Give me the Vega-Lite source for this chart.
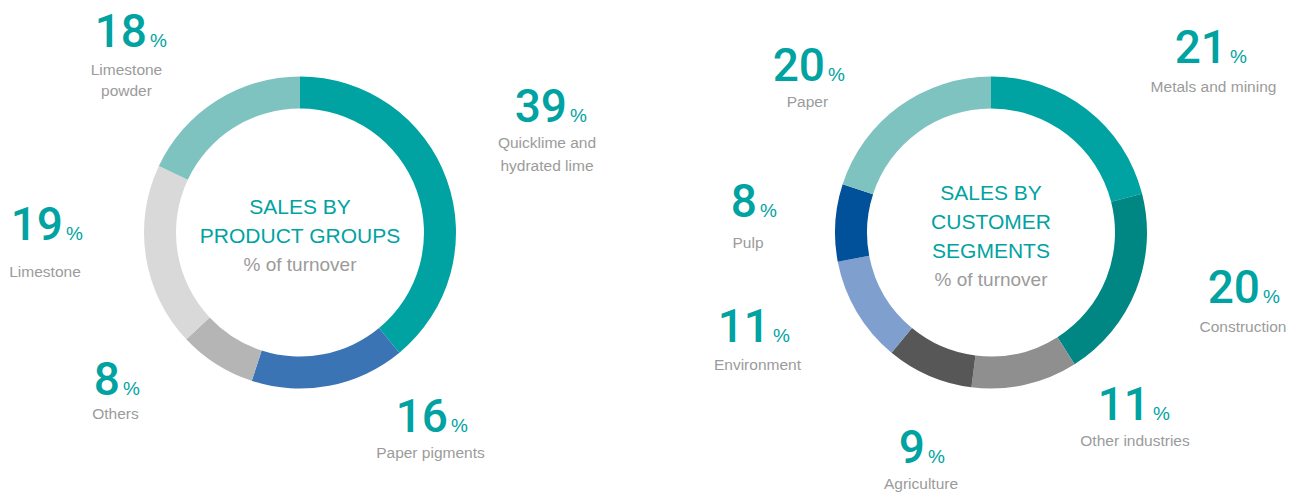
{
  "$schema": "https://vega.github.io/schema/vega-lite/v6.json",
  "autosize": {"type": "none"},
  "padding": {"left": 0, "top": 0, "right": 0, "bottom": 27},
  "width": 1295,
  "height": 465,
  "background": "white",
  "config": {"view": {"stroke": null}},
  "datasets": {
    "products": [
      {"chart": "products", "rank": 1, "name": "Quicklime and\nhydrated lime", "pct": 39},
      {"chart": "products", "rank": 2, "name": "Paper pigments", "pct": 16},
      {"chart": "products", "rank": 3, "name": "Others", "pct": 8},
      {"chart": "products", "rank": 4, "name": "Limestone", "pct": 19},
      {"chart": "products", "rank": 5, "name": "Limestone\npowder", "pct": 18}
    ],
    "segments": [
      {"chart": "segments", "rank": 1, "name": "Metals and mining", "pct": 21},
      {"chart": "segments", "rank": 2, "name": "Construction", "pct": 20},
      {"chart": "segments", "rank": 3, "name": "Other industries", "pct": 11},
      {"chart": "segments", "rank": 4, "name": "Agriculture", "pct": 9},
      {"chart": "segments", "rank": 5, "name": "Environment", "pct": 11},
      {"chart": "segments", "rank": 6, "name": "Pulp", "pct": 8},
      {"chart": "segments", "rank": 7, "name": "Paper", "pct": 20}
    ],
    "titles": [
      {"chart": "products", "title": "SALES BY\nPRODUCT GROUPS", "sub": "% of turnover"},
      {"chart": "segments", "title": "SALES BY\nCUSTOMER\nSEGMENTS", "sub": "% of turnover"}
    ]
  },
  "encoding": {
    "x": {"field": "chart", "type": "nominal", "scale": {"type": "point", "domain": ["products", "segments"], "range": [300, 991], "padding": 0}, "axis": null}
  },
  "layer": [
    {
      "data": {"name": "products"},
      "mark": {"type": "arc", "outerRadius": 156, "innerRadius": 124},
      "encoding": {
        "theta": {"field": "pct", "type": "quantitative", "stack": true, "scale": {"domain": [0, 100]}},
        "order": {"field": "rank", "type": "quantitative"},
        "color": {"field": "name", "type": "nominal", "legend": null, "scale": {
          "domain": ["Quicklime and\nhydrated lime", "Paper pigments", "Others", "Limestone", "Limestone\npowder", "Metals and mining", "Construction", "Other industries", "Agriculture", "Environment", "Pulp", "Paper"],
          "range": ["#00A3A1", "#3B74B4", "#B5B5B5", "#D9D9D9", "#7FC3C1", "#00A3A1", "#008784", "#8F8F8F", "#575757", "#7F9FCE", "#00519A", "#7FC3C1"]}}
      }
    },
    {
      "data": {"name": "segments"},
      "mark": {"type": "arc", "outerRadius": 156, "innerRadius": 124},
      "encoding": {
        "theta": {"field": "pct", "type": "quantitative", "stack": true},
        "order": {"field": "rank", "type": "quantitative"},
        "color": {"field": "name", "type": "nominal", "legend": null}
      }
    },
    {
      "data": {"name": "titles"},
      "transform": [{"filter": "datum.chart === 'products'"}],
      "mark": {"type": "text", "align": "center", "baseline": "middle", "lineBreak": "\n", "lineHeight": 29.3, "font": "Liberation Sans", "fontSize": 21, "color": "#00A3A1", "dy": -24.7},
      "encoding": {"text": {"field": "title", "type": "nominal"}}
    },
    {
      "data": {"name": "titles"},
      "transform": [{"filter": "datum.chart === 'segments'"}],
      "mark": {"type": "text", "align": "center", "baseline": "middle", "lineBreak": "\n", "lineHeight": 29.3, "font": "Liberation Sans", "fontSize": 21, "color": "#00A3A1", "dy": -39},
      "encoding": {"text": {"field": "title", "type": "nominal"}}
    },
    {
      "data": {"name": "titles"},
      "transform": [{"filter": "datum.chart === 'products'"}],
      "mark": {"type": "text", "align": "center", "baseline": "middle", "font": "Liberation Sans", "fontSize": 19, "color": "#9B9B9B", "dy": 32.5},
      "encoding": {"text": {"field": "sub", "type": "nominal"}}
    },
    {
      "data": {"name": "titles"},
      "transform": [{"filter": "datum.chart === 'segments'"}],
      "mark": {"type": "text", "align": "center", "baseline": "middle", "font": "Liberation Sans", "fontSize": 19, "color": "#9B9B9B", "dy": 47.5},
      "encoding": {"text": {"field": "sub", "type": "nominal"}}
    },
    {
      "data": {"name": "products"},
      "encoding": {
        "theta": {"field": "pct", "type": "quantitative", "stack": true},
        "order": {"field": "rank", "type": "quantitative"}
      },
      "layer": [
        {"mark": {"type": "text", "radius": 210, "align": "right", "baseline": "alphabetic", "font": "Roboto", "fontWeight": 500, "fontSize": 46, "color": "#00A3A1", "dx": 69.4, "dy": -39.7},
         "encoding": {"text": {"condition": {"test": "datum.rank == 1", "field": "pct", "type": "quantitative"}, "value": ""}}},
        {"mark": {"type": "text", "radius": 210, "align": "left", "baseline": "alphabetic", "font": "Liberation Sans", "fontSize": 19, "color": "#00A3A1", "dx": 72.4, "dy": -39.7},
         "encoding": {"text": {"condition": {"test": "datum.rank == 1", "value": "%"}, "value": ""}}},
        {"mark": {"type": "text", "radius": 210, "align": "center", "baseline": "alphabetic", "lineBreak": "\n", "lineHeight": 22.4, "font": "Liberation Sans", "fontSize": 15.5, "color": "#9B9B9B", "dx": 49.4, "dy": -13.1},
         "encoding": {"text": {"condition": {"test": "datum.rank == 1", "field": "name", "type": "nominal"}, "value": ""}}},

        {"mark": {"type": "text", "radius": 210, "align": "right", "baseline": "alphabetic", "font": "Roboto", "fontWeight": 500, "fontSize": 46, "color": "#00A3A1", "dx": 108.6, "dy": -7.1},
         "encoding": {"text": {"condition": {"test": "datum.rank == 2", "field": "pct", "type": "quantitative"}, "value": ""}}},
        {"mark": {"type": "text", "radius": 210, "align": "left", "baseline": "alphabetic", "font": "Liberation Sans", "fontSize": 19, "color": "#00A3A1", "dx": 111.6, "dy": -7.1},
         "encoding": {"text": {"condition": {"test": "datum.rank == 2", "value": "%"}, "value": ""}}},
        {"mark": {"type": "text", "radius": 210, "align": "center", "baseline": "alphabetic", "lineBreak": "\n", "lineHeight": 22.4, "font": "Liberation Sans", "fontSize": 15.5, "color": "#9B9B9B", "dx": 91.1, "dy": 19.2},
         "encoding": {"text": {"condition": {"test": "datum.rank == 2", "field": "name", "type": "nominal"}, "value": ""}}},

        {"mark": {"type": "text", "radius": 210, "align": "right", "baseline": "alphabetic", "font": "Roboto", "fontWeight": 500, "fontSize": 46, "color": "#00A3A1", "dx": -67.5, "dy": -14.8},
         "encoding": {"text": {"condition": {"test": "datum.rank == 3", "field": "pct", "type": "quantitative"}, "value": ""}}},
        {"mark": {"type": "text", "radius": 210, "align": "left", "baseline": "alphabetic", "font": "Liberation Sans", "fontSize": 19, "color": "#00A3A1", "dx": -64.5, "dy": -14.8},
         "encoding": {"text": {"condition": {"test": "datum.rank == 3", "value": "%"}, "value": ""}}},
        {"mark": {"type": "text", "radius": 210, "align": "center", "baseline": "alphabetic", "lineBreak": "\n", "lineHeight": 22.4, "font": "Liberation Sans", "fontSize": 15.5, "color": "#9B9B9B", "dx": -72, "dy": 9.2},
         "encoding": {"text": {"condition": {"test": "datum.rank == 3", "field": "name", "type": "nominal"}, "value": ""}}},

        {"mark": {"type": "text", "radius": 210, "align": "right", "baseline": "alphabetic", "font": "Roboto", "fontWeight": 500, "fontSize": 46, "color": "#00A3A1", "dx": -29.6, "dy": -25.3},
         "encoding": {"text": {"condition": {"test": "datum.rank == 4", "field": "pct", "type": "quantitative"}, "value": ""}}},
        {"mark": {"type": "text", "radius": 210, "align": "left", "baseline": "alphabetic", "font": "Liberation Sans", "fontSize": 19, "color": "#00A3A1", "dx": -26.6, "dy": -25.3},
         "encoding": {"text": {"condition": {"test": "datum.rank == 4", "value": "%"}, "value": ""}}},
        {"mark": {"type": "text", "radius": 210, "align": "center", "baseline": "alphabetic", "lineBreak": "\n", "lineHeight": 22.4, "font": "Liberation Sans", "fontSize": 15.5, "color": "#9B9B9B", "dx": -47.6, "dy": 12},
         "encoding": {"text": {"condition": {"test": "datum.rank == 4", "field": "name", "type": "nominal"}, "value": ""}}},

        {"mark": {"type": "text", "radius": 210, "align": "right", "baseline": "alphabetic", "font": "Roboto", "fontWeight": 500, "fontSize": 46, "color": "#00A3A1", "dx": -40.5, "dy": -8.5},
         "encoding": {"text": {"condition": {"test": "datum.rank == 5", "field": "pct", "type": "quantitative"}, "value": ""}}},
        {"mark": {"type": "text", "radius": 210, "align": "left", "baseline": "alphabetic", "font": "Liberation Sans", "fontSize": 19, "color": "#00A3A1", "dx": -37.5, "dy": -8.5},
         "encoding": {"text": {"condition": {"test": "datum.rank == 5", "value": "%"}, "value": ""}}},
        {"mark": {"type": "text", "radius": 210, "align": "center", "baseline": "alphabetic", "lineBreak": "\n", "lineHeight": 21, "font": "Liberation Sans", "fontSize": 15.5, "color": "#9B9B9B", "dx": -61, "dy": 19.8},
         "encoding": {"text": {"condition": {"test": "datum.rank == 5", "field": "name", "type": "nominal"}, "value": ""}}}
      ]
    },
    {
      "data": {"name": "segments"},
      "encoding": {
        "theta": {"field": "pct", "type": "quantitative", "stack": true},
        "order": {"field": "rank", "type": "quantitative"}
      },
      "layer": [
        {"mark": {"type": "text", "radius": 210, "align": "right", "baseline": "alphabetic", "font": "Roboto", "fontWeight": 500, "fontSize": 46, "color": "#00A3A1", "dx": 107.3, "dy": -3.3},
         "encoding": {"text": {"condition": {"test": "datum.rank == 1", "field": "pct", "type": "quantitative"}, "value": ""}}},
        {"mark": {"type": "text", "radius": 210, "align": "left", "baseline": "alphabetic", "font": "Liberation Sans", "fontSize": 19, "color": "#00A3A1", "dx": 110.3, "dy": -3.3},
         "encoding": {"text": {"condition": {"test": "datum.rank == 1", "value": "%"}, "value": ""}}},
        {"mark": {"type": "text", "radius": 210, "align": "center", "baseline": "alphabetic", "font": "Liberation Sans", "fontSize": 15.5, "color": "#9B9B9B", "dx": 93.8, "dy": 25.1},
         "encoding": {"text": {"condition": {"test": "datum.rank == 1", "field": "name", "type": "nominal"}, "value": ""}}},

        {"mark": {"type": "text", "radius": 210, "align": "right", "baseline": "alphabetic", "font": "Roboto", "fontWeight": 500, "fontSize": 46, "color": "#00A3A1", "dx": 73.7, "dy": -7.1},
         "encoding": {"text": {"condition": {"test": "datum.rank == 2", "field": "pct", "type": "quantitative"}, "value": ""}}},
        {"mark": {"type": "text", "radius": 210, "align": "left", "baseline": "alphabetic", "font": "Liberation Sans", "fontSize": 19, "color": "#00A3A1", "dx": 76.7, "dy": -7.1},
         "encoding": {"text": {"condition": {"test": "datum.rank == 2", "value": "%"}, "value": ""}}},
        {"mark": {"type": "text", "radius": 210, "align": "center", "baseline": "alphabetic", "font": "Liberation Sans", "fontSize": 15.5, "color": "#9B9B9B", "dx": 56.7, "dy": 21.9},
         "encoding": {"text": {"condition": {"test": "datum.rank == 2", "field": "name", "type": "nominal"}, "value": ""}}},

        {"mark": {"type": "text", "radius": 210, "align": "right", "baseline": "alphabetic", "font": "Roboto", "fontWeight": 500, "fontSize": 46, "color": "#00A3A1", "dx": 113.2, "dy": -17.4},
         "encoding": {"text": {"condition": {"test": "datum.rank == 3", "field": "pct", "type": "quantitative"}, "value": ""}}},
        {"mark": {"type": "text", "radius": 210, "align": "left", "baseline": "alphabetic", "font": "Liberation Sans", "fontSize": 19, "color": "#00A3A1", "dx": 116.2, "dy": -17.4},
         "encoding": {"text": {"condition": {"test": "datum.rank == 3", "value": "%"}, "value": ""}}},
        {"mark": {"type": "text", "radius": 210, "align": "center", "baseline": "alphabetic", "font": "Liberation Sans", "fontSize": 15.5, "color": "#9B9B9B", "dx": 98.2, "dy": 8.6},
         "encoding": {"text": {"condition": {"test": "datum.rank == 3", "field": "name", "type": "nominal"}, "value": ""}}},

        {"mark": {"type": "text", "radius": 210, "align": "right", "baseline": "alphabetic", "font": "Roboto", "fontWeight": 500, "fontSize": 46, "color": "#00A3A1", "dx": 17.4, "dy": 37.8},
         "encoding": {"text": {"condition": {"test": "datum.rank == 4", "field": "pct", "type": "quantitative"}, "value": ""}}},
        {"mark": {"type": "text", "radius": 210, "align": "left", "baseline": "alphabetic", "font": "Liberation Sans", "fontSize": 19, "color": "#00A3A1", "dx": 20.4, "dy": 37.8},
         "encoding": {"text": {"condition": {"test": "datum.rank == 4", "value": "%"}, "value": ""}}},
        {"mark": {"type": "text", "radius": 210, "align": "center", "baseline": "alphabetic", "font": "Liberation Sans", "fontSize": 15.5, "color": "#9B9B9B", "dx": 13.4, "dy": 63.8},
         "encoding": {"text": {"condition": {"test": "datum.rank == 4", "field": "name", "type": "nominal"}, "value": ""}}},

        {"mark": {"type": "text", "radius": 210, "align": "right", "baseline": "alphabetic", "font": "Roboto", "fontWeight": 500, "fontSize": 46, "color": "#00A3A1", "dx": -40.3, "dy": 2.3},
         "encoding": {"text": {"condition": {"test": "datum.rank == 5", "field": "pct", "type": "quantitative"}, "value": ""}}},
        {"mark": {"type": "text", "radius": 210, "align": "left", "baseline": "alphabetic", "font": "Liberation Sans", "fontSize": 19, "color": "#00A3A1", "dx": -37.3, "dy": 2.3},
         "encoding": {"text": {"condition": {"test": "datum.rank == 5", "value": "%"}, "value": ""}}},
        {"mark": {"type": "text", "radius": 210, "align": "center", "baseline": "alphabetic", "font": "Liberation Sans", "fontSize": 15.5, "color": "#9B9B9B", "dx": -52.8, "dy": 30.6},
         "encoding": {"text": {"condition": {"test": "datum.rank == 5", "field": "name", "type": "nominal"}, "value": ""}}},

        {"mark": {"type": "text", "radius": 210, "align": "right", "baseline": "alphabetic", "font": "Roboto", "fontWeight": 500, "fontSize": 46, "color": "#00A3A1", "dx": -24.4, "dy": -2.6},
         "encoding": {"text": {"condition": {"test": "datum.rank == 6", "field": "pct", "type": "quantitative"}, "value": ""}}},
        {"mark": {"type": "text", "radius": 210, "align": "left", "baseline": "alphabetic", "font": "Liberation Sans", "fontSize": 19, "color": "#00A3A1", "dx": -21.4, "dy": -2.6},
         "encoding": {"text": {"condition": {"test": "datum.rank == 6", "value": "%"}, "value": ""}}},
        {"mark": {"type": "text", "radius": 210, "align": "center", "baseline": "alphabetic", "font": "Liberation Sans", "fontSize": 15.5, "color": "#9B9B9B", "dx": -33.4, "dy": 28.7},
         "encoding": {"text": {"condition": {"test": "datum.rank == 6", "field": "name", "type": "nominal"}, "value": ""}}},

        {"mark": {"type": "text", "radius": 210, "align": "right", "baseline": "alphabetic", "font": "Roboto", "fontWeight": 500, "fontSize": 46, "color": "#00A3A1", "dx": -42.6, "dy": 18.1},
         "encoding": {"text": {"condition": {"test": "datum.rank == 7", "field": "pct", "type": "quantitative"}, "value": ""}}},
        {"mark": {"type": "text", "radius": 210, "align": "left", "baseline": "alphabetic", "font": "Liberation Sans", "fontSize": 19, "color": "#00A3A1", "dx": -39.6, "dy": 18.1},
         "encoding": {"text": {"condition": {"test": "datum.rank == 7", "value": "%"}, "value": ""}}},
        {"mark": {"type": "text", "radius": 210, "align": "center", "baseline": "alphabetic", "font": "Liberation Sans", "fontSize": 15.5, "color": "#9B9B9B", "dx": -60.1, "dy": 44.4},
         "encoding": {"text": {"condition": {"test": "datum.rank == 7", "field": "name", "type": "nominal"}, "value": ""}}}
      ]
    }
  ]
}
